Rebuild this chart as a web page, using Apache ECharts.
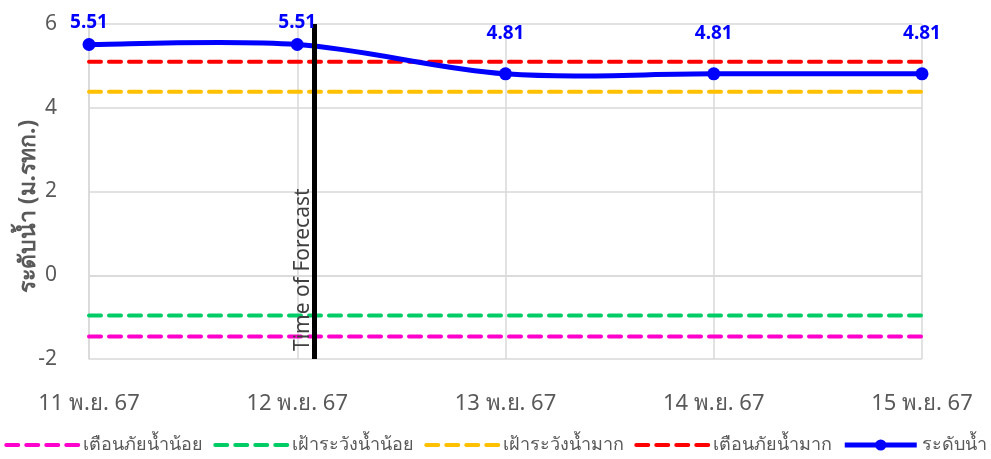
<!DOCTYPE html>
<html><head><meta charset="utf-8">
<script src="https://cdn.jsdelivr.net/npm/echarts@6/dist/echarts.min.js"></script>
<style>html,body{margin:0;padding:0;background:#fff}#c{width:991px;height:459px}</style>
</head><body><div id="c"></div>
<script>
const categories = ['11 พ.ย. 67','12 พ.ย. 67','13 พ.ย. 67','14 พ.ย. 67','15 พ.ย. 67'];
const waterLevel = [5.51, 5.51, 4.81, 4.81, 4.81];
const warnLow = [-1.46, -1.46, -1.46, -1.46, -1.46];
const watchLow = [-0.96, -0.96, -0.96, -0.96, -0.96];
const watchHigh = [4.38, 4.38, 4.38, 4.38, 4.38];
const warnHigh = [5.10, 5.10, 5.10, 5.10, 5.10];
const forecastTime = 1.08;
const yTicks = [-2, 0, 2, 4, 6];
const legendNames = ['เตือนภัยน้ำน้อย', 'เฝ้าระวังน้ำน้อย', 'เฝ้าระวังน้ำมาก', 'เตือนภัยน้ำมาก', 'ระดับน้ำ'];

const labelGaps = [6, 6, 24, 24, 24];
const COLORS = ['#FF00CC', '#00CC66', '#FFC000', '#FF0000', '#0000FF'];
const FONT = '"Noto Sans", "DejaVu Sans", sans-serif';
const toXY = arr => arr.map((v, i) => [i, v]);
const dashed = (name, color, arr) => ({
  name, type: 'line', data: toXY(arr), symbol: 'none', silent: true,
  lineStyle: { color, width: 4, type: [12, 8], cap: 'round' },
  itemStyle: { color }
});
const n = waterLevel.length;
const clampIdx = j => Math.max(0, Math.min(n - 1, j));

const chart = echarts.init(document.getElementById('c'));
chart.setOption({
  animation: false,
  grid: { left: 89, right: 69, top: 24, bottom: 100 },
  xAxis: {
    type: 'value', min: 0, max: n - 1, interval: 1,
    axisLine: { show: true, lineStyle: { color: '#d9d9d9', width: 1.5 } },
    axisTick: { show: false },
    splitLine: { show: true, lineStyle: { color: '#d9d9d9', width: 1.5 } },
    axisLabel: { formatter: v => categories[v] || '', color: '#595959', fontSize: 22, fontFamily: FONT, margin: 34 }
  },
  yAxis: {
    type: 'value', min: yTicks[0], max: yTicks[yTicks.length - 1], interval: 2,
    name: 'ระดับน้ำ (ม.รทก.)', nameLocation: 'middle', nameGap: 49, nameMoveOverlap: false,
    nameTextStyle: { color: '#595959', fontSize: 23, fontWeight: 'bold', fontFamily: FONT, padding: [0, 30, 0, 0] },
    axisLine: { show: true, lineStyle: { color: '#d9d9d9', width: 1.5 } },
    axisTick: { show: false },
    splitLine: { lineStyle: { color: '#d9d9d9', width: 1.5 } },
    axisLabel: { color: '#595959', fontSize: 21, fontFamily: FONT, margin: 32 }
  },
  legend: {
    bottom: 0, left: 'center', width: 1100, itemWidth: 72, itemHeight: 14, itemGap: 10,
    textStyle: { color: '#595959', fontSize: 18, fontFamily: FONT },
    data: legendNames.map((name, i) => i < 4
      ? { name, itemStyle: { opacity: 0 }, lineStyle: { width: 4, cap: 'round', opacity: 1 } }
      : { name, lineStyle: { color: COLORS[4], width: 5, opacity: 1, type: 'solid' } })
  },
  series: [
    dashed(legendNames[0], COLORS[0], warnLow),
    dashed(legendNames[1], COLORS[1], watchLow),
    dashed(legendNames[2], COLORS[2], watchHigh),
    dashed(legendNames[3], COLORS[3], warnHigh),
    {
      name: 'curve', type: 'custom', z: 4, silent: true,
      data: toXY(waterLevel), encode: { x: 0, y: 1 },
      renderItem: (params, api) => {
        const i = params.dataIndex;
        if (i >= n - 1) return null;
        const P = j => api.coord([clampIdx(j), waterLevel[clampIdx(j)]]);
        const p0 = P(i - 1), p1 = P(i), p2 = P(i + 1), p3 = P(i + 2);
        return {
          type: 'bezierCurve',
          shape: {
            x1: p1[0], y1: p1[1], x2: p2[0], y2: p2[1],
            cpx1: p1[0] + (p2[0] - p0[0]) / 6, cpy1: p1[1] + (p2[1] - p0[1]) / 6,
            cpx2: p2[0] - (p3[0] - p1[0]) / 6, cpy2: p2[1] - (p3[1] - p1[1]) / 6
          },
          style: { stroke: COLORS[4], lineWidth: 5, fill: null, lineCap: 'round' }
        };
      }
    },
    {
      name: legendNames[4], type: 'line', z: 5,
      data: waterLevel.map((v, i) => ({ value: [i, v], label: { distance: labelGaps[i] } })),
      symbol: 'circle', symbolSize: 13,
      lineStyle: { color: COLORS[4], width: 5, opacity: 0 },
      itemStyle: { color: COLORS[4] },
      label: { show: true, position: 'top', color: COLORS[4], fontSize: 19, fontWeight: 'bold', fontFamily: FONT,
               formatter: p => p.value[1].toFixed(2) },
      markLine: {
        silent: true, symbol: 'none',
        lineStyle: { color: '#000', width: 5, type: 'solid' },
        label: { show: true, formatter: 'Time of Forecast', position: 'insideStartTop', distance: [8, 0],
                 color: '#404040', fontSize: 21, fontFamily: FONT },
        data: [{ xAxis: forecastTime }]
      }
    }
  ]
});
</script></body></html>
